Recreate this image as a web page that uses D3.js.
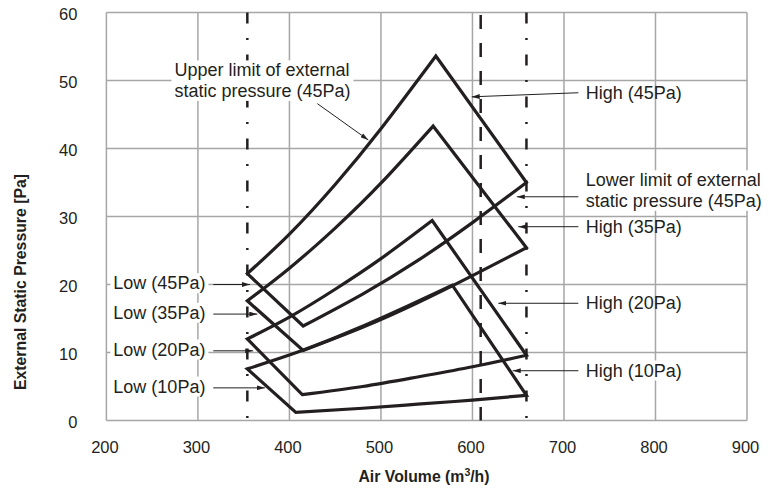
<!DOCTYPE html>
<html>
<head>
<meta charset="utf-8">
<script src="https://cdn.jsdelivr.net/npm/d3@7"></script>
<style>
  body { margin: 0; background: #fff; }
  svg { display: block; font-family: "Liberation Sans", Arial, sans-serif; }
</style>
</head>
<body>
<div id="chart"></div>
<script>
// ticks
let xTicks = [200, 300, 400, 500, 600, 700, 800, 900];
let yTicks = [0, 10, 20, 30, 40, 50, 60];

// operating ranges, one polygon per external static pressure setting
let series = ["45Pa", "35Pa", "20Pa", "10Pa"];

// upper limit curve, low fan point -> peak  [air volume, pressure]
let upperEdge = [
  [[354, 21.6], [400, 27.4], [450, 34.7], [500, 42.9], [560, 53.6]],
  [[354, 17.6], [400, 22.4], [450, 28.3], [500, 34.9], [557, 43.3]],
  [[354, 12.0], [400, 15.2], [450, 19.3], [500, 23.8], [556, 29.4]],
  [[354, 7.6], [410, 10.1], [470, 13.3], [530, 16.9], [578, 19.9]]
];
// lower limit curve, high fan point -> bottom corner
let lowerEdge = [
  [[659, 35.0], [600, 29.1], [540, 23.5], [480, 18.6], [415, 13.9]],
  [[659, 25.4], [600, 21.3], [540, 17.3], [480, 13.7], [415, 10.3]],
  [[659, 9.6], [600, 7.9], [540, 6.4], [480, 5.0], [414, 3.8]],
  [[659, 3.7], [600, 3.0], [540, 2.4], [480, 1.8], [407, 1.2]]
];

// vertical reference lines
let dashDotX = [354, 659];
let dashedX = [609];

let lowLabels = ["Low (45Pa)", "Low (35Pa)", "Low (20Pa)", "Low (10Pa)"];
let highLabels = ["High (45Pa)", "High (35Pa)", "High (20Pa)", "High (10Pa)"];
let upperLimitLabel = ["Upper limit of external", "static pressure (45Pa)"];
let lowerLimitLabel = ["Lower limit of external", "static pressure (45Pa)"];

let chart_width = 769;
let chart_height = 489;
let margin = { top: 12.5, right: 22, bottom: 68.5, left: 106.4 };
let ink = "#231f20";

let svg = d3
  .select("#chart")
  .append("svg")
  .attr("width", chart_width)
  .attr("height", chart_height);

let defs = svg.append("defs");
defs
  .append("marker")
  .attr("id", "arrow")
  .attr("viewBox", "0 0 10 6")
  .attr("refX", 10)
  .attr("refY", 3)
  .attr("markerUnits", "userSpaceOnUse")
  .attr("markerWidth", 8)
  .attr("markerHeight", 5)
  .attr("orient", "auto")
  .append("path")
  .attr("d", "M0,0L10,3L0,6Z")
  .attr("fill", ink);

//scales
let x_scale = d3.scaleLinear().domain([200, 900]).range([margin.left, chart_width - margin.right]);
let y_scale = d3.scaleLinear().domain([0, 60]).range([chart_height - margin.bottom, margin.top]);

let x0 = x_scale.range()[0], x1 = x_scale.range()[1];
let yb = y_scale.range()[0], yt = y_scale.range()[1];

/* GRID */
let grid = svg.append("g").attr("stroke", "#a6a6a6").attr("stroke-width", 1.5);
grid.selectAll(".gx")
  .data(xTicks)
  .enter()
  .append("line")
  .attr("x1", d => x_scale(d)).attr("x2", d => x_scale(d))
  .attr("y1", yt).attr("y2", yb);
grid.selectAll(".gy")
  .data(yTicks)
  .enter()
  .append("line")
  .attr("x1", x0).attr("x2", x1)
  .attr("y1", d => y_scale(d)).attr("y2", d => y_scale(d));

/* AXES (labels only) */
let xAxis = svg.append("g")
  .attr("transform", "translate(0," + yb + ")")
  .call(d3.axisBottom(x_scale).tickValues(xTicks).tickSize(0).tickPadding(20.5));
let yAxis = svg.append("g")
  .attr("transform", "translate(" + x0 + ",0)")
  .call(d3.axisLeft(y_scale).tickValues(yTicks).tickSize(0).tickPadding(29));
[xAxis, yAxis].forEach(function (a) {
  a.select(".domain").remove();
  a.selectAll("text")
    .attr("font-family", "Liberation Sans, Arial, sans-serif")
    .attr("font-size", 16.5)
    .attr("fill", ink);
});
xAxis.selectAll("text").attr("dx", -2);
yAxis.selectAll("text").attr("dy", "0.45em");

// axis titles
let xTitle = svg.append("text")
  .attr("x", 424)
  .attr("y", 482)
  .attr("text-anchor", "middle")
  .attr("font-weight", "bold")
  .attr("font-size", 15.8)
  .attr("fill", ink);
xTitle.append("tspan").text("Air Volume (m");
xTitle.append("tspan").attr("font-size", 10.5).attr("dy", -6).text("3");
xTitle.append("tspan").attr("dy", 6).text("/h)");

svg.append("text")
  .attr("transform", "translate(25.6,282) rotate(-90)")
  .attr("text-anchor", "middle")
  .attr("font-weight", "bold")
  .attr("font-size", 15.8)
  .attr("fill", ink)
  .text("External Static Pressure [Pa]");

/* REFERENCE LINES */
svg.selectAll(".dashdot")
  .data(dashDotX)
  .enter()
  .append("line")
  .attr("x1", d => x_scale(d)).attr("x2", d => x_scale(d))
  .attr("y1", y_scale(60)).attr("y2", y_scale(0))
  .attr("stroke", ink)
  .attr("stroke-width", 2.5)
  .attr("stroke-dasharray", "11,14.5,2,14.5");
svg.selectAll(".dashed")
  .data(dashedX)
  .enter()
  .append("line")
  .attr("x1", d => x_scale(d)).attr("x2", d => x_scale(d))
  .attr("y1", y_scale(60)).attr("y2", y_scale(0))
  .attr("stroke", ink)
  .attr("stroke-width", 2.5)
  .attr("stroke-dasharray", "14,14")
  .attr("stroke-dashoffset", 25.5);

/* LABELS with white boxes */
let labelLayer = svg.append("g");
let leaderLayer = svg.append("g");

function addLabel(lines, xv, baselineY, boxed) {
  let g = labelLayer.append("g");
  let t = g.append("text")
    .attr("font-size", 18)
    .attr("fill", ink);
  lines.forEach(function (s, i) {
    t.append("tspan")
      .attr("x", x_scale(xv))
      .attr("y", baselineY + i * 20.5)
      .text(s);
  });
  if (boxed) {
    let bb = t.node().getBBox();
    g.insert("rect", "text")
      .attr("x", bb.x - 3).attr("y", bb.y)
      .attr("width", bb.width + 6).attr("height", bb.height)
      .attr("fill", "#fff");
  }
}

function addLeader(from, to) {
  leaderLayer.append("line")
    .attr("x1", x_scale(from[0])).attr("y1", y_scale(from[1]))
    .attr("x2", x_scale(to[0])).attr("y2", y_scale(to[1]))
    .attr("stroke", ink)
    .attr("stroke-width", 1)
    .attr("marker-end", "url(#arrow)");
}

// low side labels: [line y, arrow tip x]
let lowPos = [[20.0, 356.9], [15.65, 364.9], [10.25, 360.4], [4.8, 373.2]];
lowLabels.forEach(function (s, i) {
  addLabel([s], 207.6, y_scale(lowPos[i][0]) + 4.7, true);
  addLeader([316.8, lowPos[i][0]], [lowPos[i][1], lowPos[i][0]]);
});

// high side labels: [line start y, tip y, tip x]
let highPos = [[48.2, 47.6, 599.2], [28.5, 28.5, 650.1], [17.24, 17.24, 628.3], [7.32, 7.32, 644]];
let highBoxed = [false, false, false, true];
highLabels.forEach(function (s, i) {
  addLabel([s], 723.8, y_scale(highPos[i][0]) + 5.8, highBoxed[i]);
  addLeader([715.7, highPos[i][0]], [highPos[i][2], highPos[i][1]]);
});

addLabel(lowerLimitLabel, 723.8, y_scale(32.9) - 10.5, true);
addLeader([715.7, 32.9], [648.4, 32.9]);

addLabel(upperLimitLabel, 274.3, 76.4, true);
addLeader([430.5, 46.6], [486.2, 41.25]);

/* POLYGONS */
let edge = d3.line()
  .x(d => x_scale(d[0]))
  .y(d => y_scale(d[1]))
  .curve(d3.curveNatural);

svg.insert("g", function () { return leaderLayer.node(); })
  .selectAll("path")
  .data(series)
  .enter()
  .append("path")
  .attr("d", function (d, i) {
    return edge(upperEdge[i]) + edge(lowerEdge[i]).replace(/^M/, "L") + "Z";
  })
  .attr("fill", "none")
  .attr("stroke", ink)
  .attr("stroke-width", 3.2)
  .attr("stroke-linejoin", "miter")
  .attr("stroke-miterlimit", 10);
</script>
</body>
</html>
